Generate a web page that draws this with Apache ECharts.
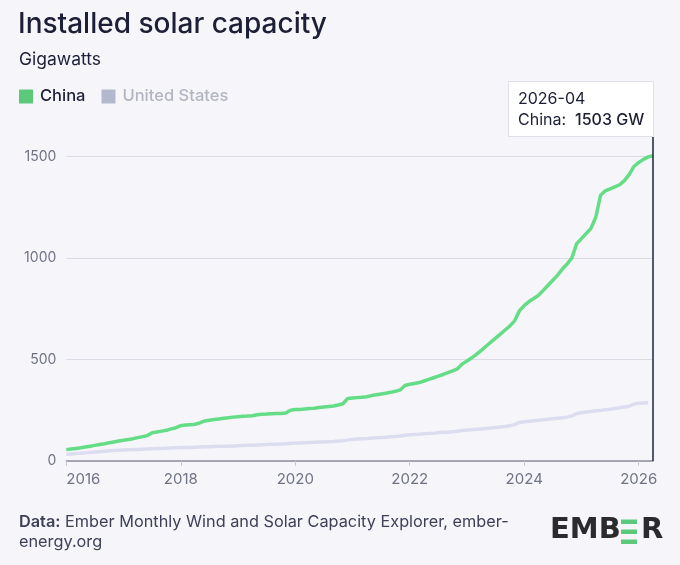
<!DOCTYPE html>
<html>
<head>
<meta charset="utf-8">
<script src="https://cdn.jsdelivr.net/npm/echarts@6/dist/echarts.min.js"></script>
<style>
html,body{margin:0;padding:0;background:#f6f6fa;}
#chart{width:680px;height:565px;}
</style>
</head>
<body>
<div id="chart"></div>
<script>
// Months 2016-01 .. 2026-04
const months = [];
for (let y = 2016; y <= 2026; y++) {
  for (let m = 1; m <= 12; m++) {
    if (y === 2026 && m > 4) break;
    months.push(y + '-' + String(m).padStart(2, '0'));
  }
}

const chinaGW = [
  56, 59, 62, 65, 69, 73, 77, 81, 85, 90, 94, 98,
  102, 106, 110, 115, 120, 125, 139, 143, 147, 151, 158, 164,
  174, 177, 179, 181, 188, 197, 201, 204, 207, 210, 213, 216,
  218, 220, 221, 223, 228, 230, 231, 233, 234, 234, 236, 250,
  253, 254, 256, 258, 260, 263, 266, 268, 271, 276, 282, 308,
  310, 312, 314, 316, 322, 326, 330, 334, 338, 343, 350, 372,
  378, 382, 386, 394, 402, 410, 418, 426, 435, 444, 454, 478,
  492, 508, 525, 545, 565, 585, 605, 625, 645, 665, 690, 740,
  765, 785, 800, 816, 840, 865, 890, 915, 945, 970, 1000, 1070,
  1095, 1120, 1145, 1200, 1308, 1330, 1340, 1350, 1360, 1380, 1410, 1450,
  1470, 1485, 1497, 1503
];

const usGW = [
  33, 35, 37, 38, 40, 42, 44, 46, 48, 50, 52, 53,
  54, 55, 56, 57, 58, 59, 60, 61, 62, 63, 64, 65,
  66, 67, 67, 68, 69, 70, 70, 71, 72, 73, 73, 74,
  75, 76, 77, 78, 79, 80, 81, 82, 83, 84, 85, 87,
  88, 89, 90, 91, 92, 93, 94, 95, 96, 98, 100, 104,
  106, 108, 110, 111, 113, 114, 116, 117, 119, 121, 123, 127,
  129, 131, 132, 134, 136, 137, 139, 141, 142, 144, 146, 150,
  152, 154, 156, 158, 160, 162, 165, 167, 170, 174, 179, 190,
  193, 196, 198, 201, 203, 205, 208, 210, 213, 216, 222, 234,
  238, 241, 244, 247, 249, 252, 255, 258, 262, 266, 270, 280,
  284, 286, 287, null
];

const yTicks = [0, 500, 1000, 1500];
const seriesNames = ['China', 'United States'];

const FONT = 'Inter';
const DARK = '#1c1f35';
const GREEN = '#5cc87a';
const GREY_LINE = '#c8cadb';

const isYearTick = (idx, val) => /^\d{4}-01$/.test(val) && (parseInt(val) % 2 === 0);

const chart = echarts.init(document.getElementById('chart'));
chart.setOption({
  animation: false,
  backgroundColor: '#f6f6fa',
  textStyle: { fontFamily: FONT },
  title: [
    { text: 'Installed solar capacity', left: 18, top: 11, padding: 0,
      textStyle: { fontFamily: FONT, fontSize: 28, fontWeight: 500, color: DARK } },
    { text: 'Gigawatts', left: 19, top: 51, padding: 0,
      textStyle: { fontFamily: FONT, fontSize: 17.5, fontWeight: 400, color: DARK } }
  ],
  legend: {
    left: 19, top: 88, padding: 0, itemWidth: 14, itemHeight: 14, itemGap: 16,
    icon: 'rect',
    data: [
      { name: seriesNames[0], textStyle: { color: DARK } },
      { name: seriesNames[1], textStyle: { color: '#b3b5c3' } }
    ],
    textStyle: { fontFamily: FONT, fontSize: 16.5, fontWeight: 500, padding: [0, 0, 0, 2] },
    selectedMode: false
  },
  grid: { left: 66.3, right: 27, top: 136, bottom: 104, containLabel: false },
  xAxis: {
    type: 'category',
    data: months,
    boundaryGap: false,
    axisLine: { lineStyle: { color: '#8d8f9c', width: 1.5 } },
    axisTick: { interval: isYearTick, length: 5, lineStyle: { color: '#c8c9d3' } },
    axisLabel: {
      interval: isYearTick,
      formatter: v => v.slice(0, 4),
      alignMinLabel: 'left',
      color: '#6f7285', fontSize: 15, margin: 11, fontFamily: FONT
    },
    splitLine: { show: false }
  },
  yAxis: {
    type: 'value',
    min: 0, max: 1600, interval: 500,
    axisLine: { show: false },
    axisTick: { show: false },
    axisLabel: {
      color: '#6f7285', fontSize: 14, margin: 10, fontFamily: FONT,
      showMaxLabel: false,
      formatter: v => yTicks.includes(v) ? String(v) : ''
    },
    splitLine: { show: true, showMaxLine: false, lineStyle: { color: '#dcdce6', width: 1 } }
  },
  tooltip: {
    trigger: 'axis',
    triggerOn: 'none',
    alwaysShowContent: true,
    transitionDuration: 0,
    backgroundColor: '#ffffff',
    borderColor: '#dfe0ea',
    borderWidth: 1,
    padding: [6, 9],
    textStyle: { fontFamily: FONT, fontSize: 16, color: DARK },
    extraCssText: 'box-shadow:none;border-radius:0;line-height:21px;',
    axisPointer: { type: 'line', lineStyle: { color: '#1d2340', width: 1.5, type: 'solid' } },
    position: function (point, params, dom, rect, size) {
      return [point[0] - size.contentSize[0] + 1, 81];
    },
    formatter: function (params) {
      let s = params[0].name;
      params.forEach(p => {
        if (p.value != null && p.value !== '-') {
          s += '<br>' + p.seriesName + ':&nbsp; <span style="font-weight:500">' + p.value + ' GW</span>';
        }
      });
      return s;
    }
  },
  series: [
    { name: seriesNames[1], type: 'line', data: usGW, showSymbol: false, symbol: 'none',
      color: '#b4b8cf',
      lineStyle: { color: GREY_LINE, width: 3.5 }, z: 2 },
    { name: seriesNames[0], type: 'line', data: chinaGW, showSymbol: false, symbol: 'none',
      color: GREEN,
      lineStyle: { color: GREEN, width: 3.5 }, z: 3 }
  ],
  graphic: [
    {
      type: 'text', left: 19, top: 512,
      style: {
        text: '{b|Data:} Ember Monthly Wind and Solar Capacity Explorer, ember-\nenergy.org',
        fontFamily: FONT, fontSize: 16.3, fill: '#3d4057', lineHeight: 20,
        rich: { b: { fontWeight: 600, fontFamily: FONT, fontSize: 16.3, fill: '#3d4057', lineHeight: 20 } }
      }
    },
    {
      type: 'group', left: 550, top: 516,
      children: [
        { type: 'text', x: 0, y: 0,
          style: { text: 'EMB', fontFamily: 'DejaVu Sans', fontWeight: 'bold', fontSize: 29, fill: '#2b2b2e' } },
        { type: 'rect', shape: { x: 71, y: 3.5, width: 16, height: 4.5 }, style: { fill: '#5cc87a' } },
        { type: 'rect', shape: { x: 71, y: 13.5, width: 16, height: 4.5 }, style: { fill: '#5cc87a' } },
        { type: 'rect', shape: { x: 71, y: 23.5, width: 16, height: 4.5 }, style: { fill: '#5cc87a' } },
        { type: 'text', x: 91, y: 0,
          style: { text: 'R', fontFamily: 'DejaVu Sans', fontWeight: 'bold', fontSize: 29, fill: '#2b2b2e' } }
      ]
    }
  ]
});

setTimeout(function () {
  chart.dispatchAction({ type: 'showTip', seriesIndex: 1, dataIndex: months.length - 1 });
}, 50);
</script>
</body>
</html>
